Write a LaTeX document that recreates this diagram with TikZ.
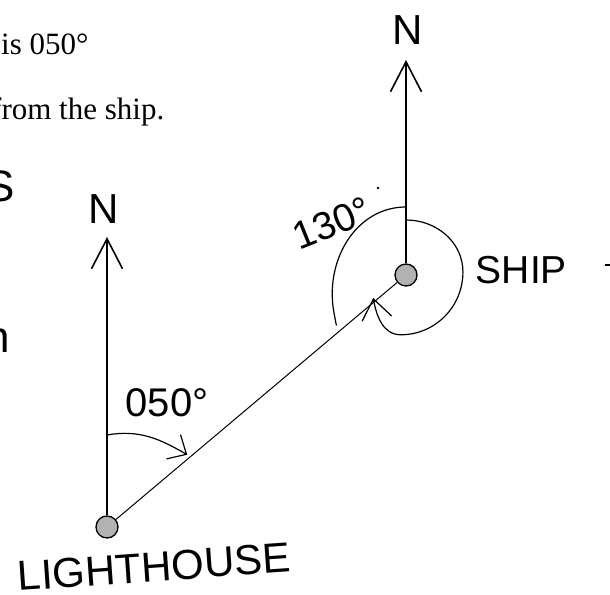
\documentclass[tikz,border=0pt]{standalone}
\usepackage{fontspec}
\setmainfont{Liberation Serif}
\newfontfamily\handfont{Liberation Sans}
\usetikzlibrary{arrows.meta,positioning,calc}

\begin{document}
\begin{tikzpicture}[
    x=1pt, y=1pt,
    dot/.style={circle, draw=black, line width=1.3pt, fill=gray!60, minimum size=22pt, inner sep=0pt},
    hand/.style={font=\handfont\fontsize{40}{40}\selectfont, inner sep=0pt},
    bighand/.style={font=\handfont\fontsize{44}{44}\selectfont, inner sep=0pt},
    print/.style={font=\fontsize{31}{36}\selectfont, inner sep=0pt, anchor=base west},
    northline/.style={draw, line width=1.6pt, -{Straight Barb[length=30pt, width=31pt]}},
    line/.style={draw, line width=1pt},
    anglearc/.style={draw, line width=1.2pt}
]
\clip (0,0) rectangle (610,594);

% Printed text
\node[print] (txtbearing) at (1,539) {is 050°};
\node[print] (txtship) at (-9,474) {from the ship.};
\node[bighand] (cutS) at (0.5,408) {S};
\node[bighand] (cutn) at (-2,253) {n};
\draw[anglearc] (605,329) -- (610,329);

% Nodes
\node[dot] (lighthouse) at (107,67) {};
\node[dot] (ship) at (406,319) {};
\coordinate (lhnorth) at (107,357);
\coordinate (shipnorth) at (406,534);
\node[bighand, above=13pt of lhnorth, xshift=-3pt, font=\handfont\fontsize{42}{42}\selectfont] (lhN) {N};
\node[bighand, above=15pt of shipnorth, xshift=2pt, font=\handfont\fontsize{42}{42}\selectfont] (shipN) {N};
\node[hand, right=58pt of ship, yshift=5pt, font=\handfont\fontsize{39}{39}\selectfont] (shiplbl) {SHIP};
\node[hand, rotate=4, font=\handfont\fontsize{42}{42}\selectfont] (lhlbl) at (154,27) {LIGHTHOUSE};
\node[hand] (bearlbl) at (167,191) {050°};
\node[hand, rotate=22, font=\handfont\fontsize{39}{39}\selectfont] (backlbl) at (332,371) {130°};
\fill (378,406) circle[radius=1.3pt];

% Connectors
\path[northline] (lighthouse) -- (lhnorth);
\path[northline] (ship) -- (shipnorth);
\path[line] (lighthouse) -- (ship);

% Angles
\draw[anglearc, -{Straight Barb[length=15pt, width=28pt]}]
    ($(lighthouse.center)+(90:92pt)$) to[out=10, in=150] ($(lighthouse.center)+(42:108pt)$);
\draw[anglearc]
    ($(ship.center)+(90:68pt)$) to[out=180, in=90] ($(ship.center)+(194:76pt)$)
    to[out=-90, in=101] ($(ship.center)+(216:86pt)$);
\draw[anglearc, -{Straight Barb[length=20pt, width=30pt]}]
    ($(ship.center)+(90:55pt)$) to[out=0, in=90] ($(ship.center)+(3:57pt)$)
    to[out=-90, in=0] ($(ship.center)+(265:60pt)$)
    to[out=180, in=-80] ($(ship.center)+(215:40pt)$);

\end{tikzpicture}
\end{document}
